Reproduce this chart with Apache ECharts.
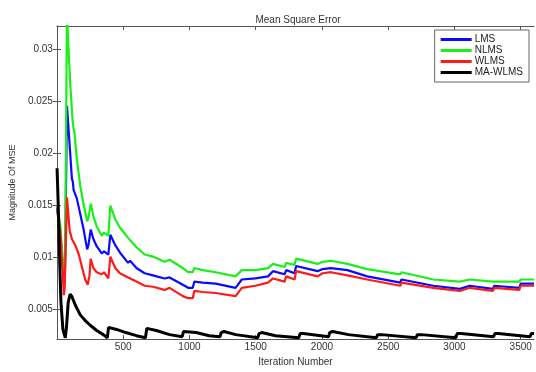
<!DOCTYPE html>
<html>
<head>
<meta charset="utf-8">
<script src="https://cdn.jsdelivr.net/npm/echarts@6/dist/echarts.min.js"></script>
<style>
  html, body { margin: 0; padding: 0; background: #fff; }
  #chart { width: 536px; height: 372px; }
</style>
</head>
<body>
<div id="chart"></div>
<script>
// values: [iteration, mse]
const lmsData = [
  [1, 0.0148], [25, 0.0125], [45, 0.0090], [53, 0.0072], [60, 0.0080], [76, 0.0246],
  [113, 0.0176], [120, 0.0173], [126, 0.0165], [150, 0.0157], [200, 0.0128], [228, 0.0108],
  [238, 0.0112], [255, 0.0127], [275, 0.0118], [300, 0.0111], [338, 0.0104], [355, 0.0106],
  [388, 0.0103], [403, 0.0122], [440, 0.0112], [475, 0.0105], [537, 0.0095], [552, 0.0097],
  [600, 0.0090], [662, 0.0085], [725, 0.0083], [812, 0.0080], [850, 0.0081], [950, 0.0074],
  [990, 0.0071], [1025, 0.0071], [1037, 0.0077], [1100, 0.0076], [1198, 0.0075], [1348, 0.0071],
  [1360, 0.0072], [1395, 0.0079], [1498, 0.0080], [1593, 0.0082], [1630, 0.0087], [1718, 0.0084],
  [1730, 0.0088], [1793, 0.0085], [1805, 0.0092], [1967, 0.0087], [2005, 0.0089], [2067, 0.0090],
  [2192, 0.0088], [2341, 0.0082], [2591, 0.0076], [2600, 0.0079], [2840, 0.0073], [3040, 0.0070],
  [3115, 0.0073], [3290, 0.0070], [3300, 0.0073], [3489, 0.0071], [3500, 0.0075], [3600, 0.0075]
];
const nlmsData = [
  [1, 0.0150], [25, 0.0132], [45, 0.0097], [54, 0.0080], [62, 0.0100], [76, 0.0345],
  [82, 0.0316], [100, 0.0268], [118, 0.0232], [126, 0.0224], [132, 0.0221], [150, 0.0195],
  [176, 0.0169], [200, 0.0152], [215, 0.0143], [228, 0.0135], [238, 0.0138], [255, 0.0152],
  [275, 0.0140], [300, 0.0130], [338, 0.0121], [355, 0.0124], [388, 0.0121], [403, 0.0150],
  [440, 0.0137], [475, 0.0129], [537, 0.0119], [552, 0.0120], [600, 0.0110], [662, 0.0103],
  [725, 0.0101], [812, 0.0096], [850, 0.0098], [950, 0.0090], [990, 0.0086], [1025, 0.0086],
  [1037, 0.0090], [1100, 0.0088], [1198, 0.0086], [1348, 0.0082], [1360, 0.0083], [1395, 0.0088],
  [1498, 0.0088], [1593, 0.0090], [1630, 0.0094], [1718, 0.0091], [1730, 0.0095], [1793, 0.0093],
  [1805, 0.0099], [1967, 0.0094], [2005, 0.0096], [2067, 0.0097], [2192, 0.0094], [2341, 0.0089],
  [2591, 0.0084], [2600, 0.0086], [2840, 0.0079], [3040, 0.0077], [3115, 0.0079], [3290, 0.0077],
  [3300, 0.0078], [3489, 0.0077], [3500, 0.0079], [3600, 0.0079]
];
const wlmsData = [
  [1, 0.0146], [25, 0.0125], [45, 0.0085], [52, 0.0064], [58, 0.0070], [76, 0.0158],
  [96, 0.0126], [113, 0.0118], [138, 0.0112], [163, 0.0104], [213, 0.0079], [232, 0.0074],
  [245, 0.0082], [255, 0.0099], [275, 0.0090], [300, 0.0086], [338, 0.0084], [355, 0.0086],
  [388, 0.0080], [403, 0.0101], [440, 0.0090], [475, 0.0085], [537, 0.0081], [552, 0.0082],
  [600, 0.0077], [662, 0.0073], [725, 0.0072], [812, 0.0069], [850, 0.0071], [950, 0.0063],
  [990, 0.0061], [1025, 0.0061], [1037, 0.0068], [1100, 0.0067], [1198, 0.0066], [1348, 0.0063],
  [1360, 0.0064], [1395, 0.0071], [1498, 0.0073], [1593, 0.0076], [1630, 0.0080], [1718, 0.0077],
  [1730, 0.0082], [1793, 0.0079], [1805, 0.0087], [1967, 0.0082], [2005, 0.0085], [2067, 0.0086],
  [2192, 0.0083], [2341, 0.0079], [2591, 0.0073], [2600, 0.0076], [2840, 0.0071], [3040, 0.0068],
  [3115, 0.0071], [3290, 0.0068], [3300, 0.0071], [3489, 0.0069], [3500, 0.0073], [3600, 0.0073]
];
const mawlmsData = [
  [1, 0.0186], [10, 0.0150], [20, 0.0100], [30, 0.0058], [45, 0.0031], [63, 0.0023],
  [72, 0.0033], [85, 0.0057], [100, 0.0065], [115, 0.0062], [140, 0.0054], [176, 0.0045],
  [210, 0.0040], [251, 0.0035], [300, 0.0030], [350, 0.0026], [380, 0.0023], [390, 0.0033],
  [405, 0.0034], [450, 0.0031], [520, 0.0028], [600, 0.0025], [668, 0.0023], [678, 0.0032],
  [692, 0.0033], [750, 0.0030], [850, 0.0026], [945, 0.0024], [955, 0.0029], [970, 0.0030],
  [1050, 0.0028], [1150, 0.0025], [1230, 0.0024], [1240, 0.0028], [1260, 0.0029], [1350, 0.0026],
  [1515, 0.0023], [1525, 0.0027], [1545, 0.0028], [1650, 0.0025], [1825, 0.0023], [1835, 0.0027],
  [1860, 0.0027], [2050, 0.0024], [2058, 0.0028], [2080, 0.0029], [2200, 0.0026], [2410, 0.0023],
  [2420, 0.0026], [2450, 0.0026], [2710, 0.0023], [2720, 0.0026], [2750, 0.0026], [3010, 0.0023],
  [3020, 0.0027], [3050, 0.0027], [3295, 0.0024], [3305, 0.0027], [3330, 0.0027], [3570, 0.0024],
  [3580, 0.0027], [3600, 0.0027]
];
const xTicks = [500, 1000, 1500, 2000, 2500, 3000, 3500];
const yTicks = [0.005, 0.01, 0.015, 0.02, 0.025, 0.03];

const chart = echarts.init(document.getElementById("chart"), null, { renderer: "canvas" });

const font = "Liberation Sans, Arial, sans-serif";
const axisCol = "#555";

const tickStyle = { inside: true, length: 4, lineStyle: { color: axisCol, width: 1 } };

const option = {
  animation: false,
  backgroundColor: "#fff",
  title: {
    text: "Mean Square Error",
    left: 293,
    top: 10,
    textAlign: "center",
    textStyle: { fontFamily: font, fontSize: 10, fontWeight: "normal", color: "#333" },
  },
  legend: {
    data: ["LMS", "NLMS", "WLMS", "MA-WLMS"],
    orient: "vertical",
    right: 7,
    top: 30,
    icon: "rect",
    itemWidth: 31,
    itemHeight: 3,
    itemGap: 0,
    padding: [4, 6, 4, 6],
    backgroundColor: "#fff",
    borderColor: "#666",
    borderWidth: 1,
    borderRadius: 0,
    textStyle: { fontFamily: font, fontSize: 10, lineHeight: 11, color: "#222", padding: [0, 0, 0, -2] },
  },
  grid: { left: 53, right: 2, top: 26, bottom: 24, containLabel: false },
  xAxis: [
    {
      type: "value",
      min: 0,
      max: 3600,
      name: "Iteration Number",
      nameLocation: "middle",
      nameGap: 14,
      nameTextStyle: { fontFamily: font, fontSize: 10, color: "#333" },
      axisLine: { show: true, lineStyle: { color: axisCol, width: 1 } },
      axisTick: Object.assign({ customValues: xTicks }, tickStyle),
      axisLabel: {
        customValues: xTicks,
        margin: 3,
        fontFamily: font,
        fontSize: 10,
        color: "#333",
        formatter: (v) => String(v),
      },
      splitLine: { show: false },
    },
    {
      type: "value",
      position: "top",
      min: 0,
      max: 3600,
      axisLine: { show: true, lineStyle: { color: axisCol, width: 1 } },
      axisTick: Object.assign({ customValues: xTicks }, tickStyle),
      axisLabel: { show: false },
      splitLine: { show: false },
    },
  ],
  yAxis: [
    {
      type: "value",
      min: 0.00217,
      max: 0.03227,
      name: "Magnitude Of MSE",
      nameLocation: "middle",
      nameGap: 38,
      nameTextStyle: { fontFamily: font, fontSize: 9, color: "#333" },
      axisLine: { show: true, lineStyle: { color: axisCol, width: 1 } },
      axisTick: Object.assign({ customValues: yTicks }, tickStyle),
      axisLabel: {
        customValues: yTicks,
        margin: 4,
        fontFamily: font,
        fontSize: 10,
        color: "#333",
        formatter: (v) => String(parseFloat(v.toFixed(4))),
      },
      splitLine: { show: false },
    },
    {
      type: "value",
      position: "right",
      min: 0.00217,
      max: 0.03227,
      axisLine: { show: true, lineStyle: { color: axisCol, width: 1 } },
      axisTick: Object.assign({ customValues: yTicks }, tickStyle),
      axisLabel: { show: false },
      splitLine: { show: false },
    },
  ],
  series: [
    { name: "LMS", type: "line", data: lmsData, symbol: "none", lineStyle: { color: "#0a0aff", width: 2.2 }, itemStyle: { color: "#0a0aff" } },
    { name: "NLMS", type: "line", data: nlmsData, symbol: "none", lineStyle: { color: "#19f019", width: 2.2 }, itemStyle: { color: "#19f019" } },
    { name: "WLMS", type: "line", data: wlmsData, symbol: "none", lineStyle: { color: "#ff1a1a", width: 2.2 }, itemStyle: { color: "#ff1a1a" } },
    { name: "MA-WLMS", type: "line", data: mawlmsData, symbol: "none", lineStyle: { color: "#000", width: 3 }, itemStyle: { color: "#000" } },
  ],
};

chart.setOption(option);
</script>
</body>
</html>
